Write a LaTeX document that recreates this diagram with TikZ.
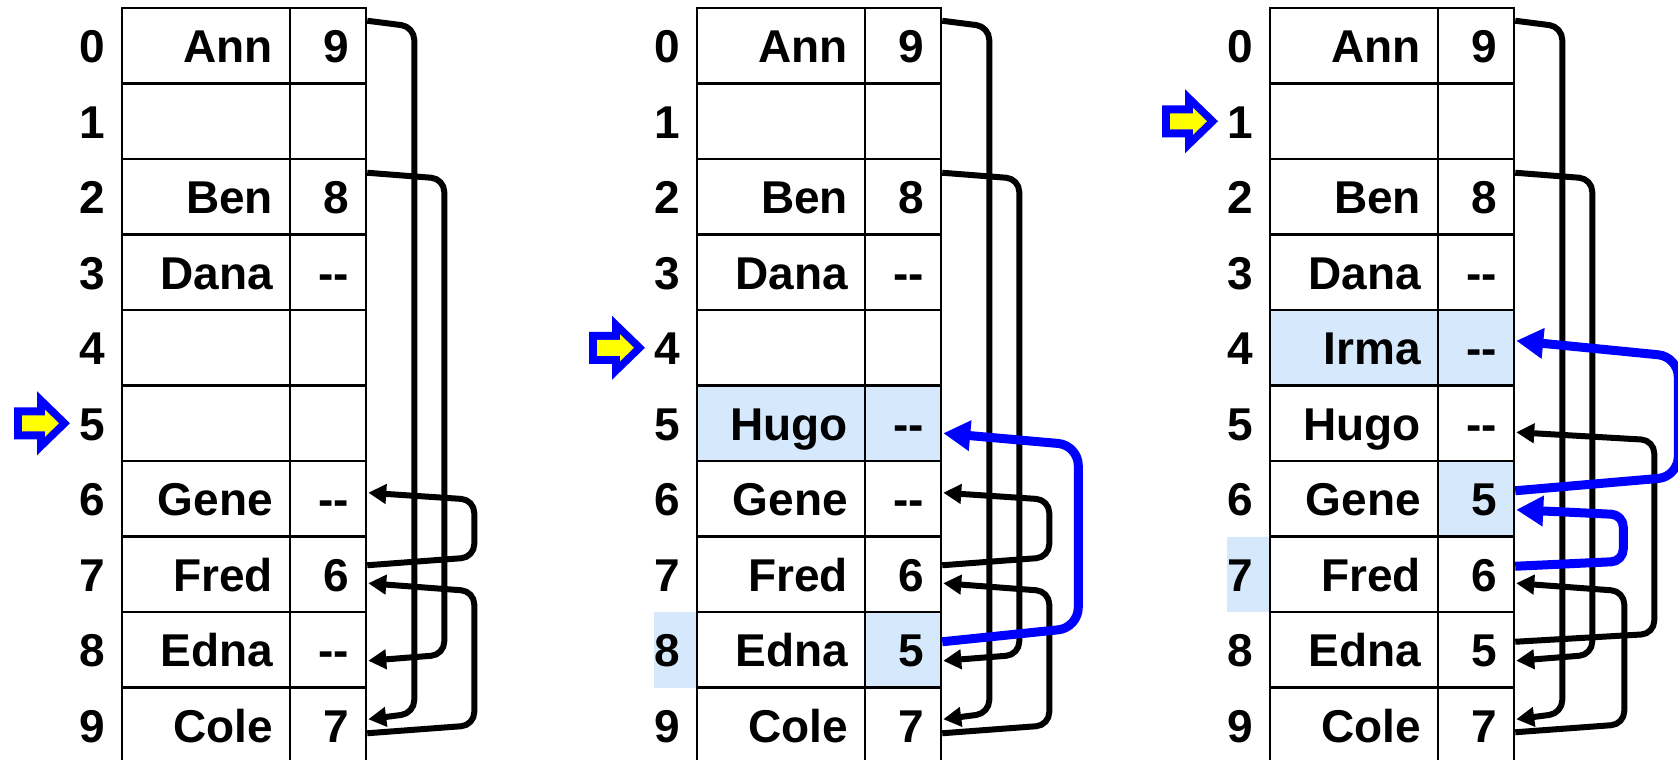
\documentclass[tikz,border=0pt]{standalone}
\usepackage{fontspec}
\setmainfont{Liberation Sans}
\usetikzlibrary{arrows.meta,calc}
\definecolor{hlblue}{HTML}{D6E9FC}
\definecolor{pblue}{HTML}{0000FF}
\definecolor{pyellow}{HTML}{FFFF00}
\newcommand\dashpair{-\kern0pt-}
\newcommand\tabfont{\bfseries\fontsize{46}{50}\selectfont}
\newcommand\tablerows[2]{%
  \foreach \r/\n/\v/\sn/\sv in {#2}{%
    \pgfmathsetmacro\cy{45.75+75.5*\r}
    \node[idx] (#1i\r) at (92,\cy) {\r};
    \node[cellN,\sn] (#1n\r) at (206,\cy) {\n};
    \node[cellV,\sv] (#1v\r) at (328,\cy) {\v};
  }}
\tikzset{
  plain/.style={},
  hl/.style={fill=hlblue},
  cellbase/.style={draw, line width=2.5pt, minimum height=75.5pt, inner xsep=17pt, inner ysep=0pt,
    align=right, text height=34pt, text depth=0pt, font=\tabfont},
  cellN/.style={cellbase, text width=134pt},
  cellV/.style={cellbase, text width=42pt},
  idx/.style={font=\tabfont, text height=34pt, text depth=0pt, inner sep=0pt},
  blackptr/.style={draw=black, line width=6pt, line join=round, rounded corners=13pt, -{Triangle[length=18pt,width=19pt]}},
  blueptr/.style={draw=pblue, line width=9pt, line join=round, rounded corners=20pt, -{Triangle[length=27pt,width=29pt]}},
  ptr/.pic={
    \fill[pblue] (-78,-16) -- (-55,-16) -- (-55,-32) -- (-22,0) -- (-55,32) -- (-55,16) -- (-78,16) -- cycle;
    \fill[pyellow] (-70,-8) -- (-47,-8) -- (-47,-13.5) -- (-33,0) -- (-47,13.5) -- (-47,8) -- (-70,8) -- cycle;
  }
}
\begin{document}
\begin{tikzpicture}[x=1pt,y=-1pt]
\useasboundingbox (0,0) rectangle (1678,760);
\clip (0,0) rectangle (1678,760);

% ---------- panel 1 ----------
\tablerows{a}{0/Ann/9/plain/plain,1///plain/plain,2/Ben/8/plain/plain,3/Dana/\dashpair/plain/plain,4///plain/plain,5///plain/plain,6/Gene/\dashpair/plain/plain,7/Fred/6/plain/plain,8/Edna/\dashpair/plain/plain,9/Cole/7/plain/plain}
\path (ai5) pic {ptr};

% ---------- panel 2 ----------
\begin{scope}[xshift=575pt]
\fill[hlblue] (79,612) rectangle (122,687.5);
\tablerows{b}{0/Ann/9/plain/plain,1///plain/plain,2/Ben/8/plain/plain,3/Dana/\dashpair/plain/plain,4///plain/plain,5/Hugo/\dashpair/hl/hl,6/Gene/\dashpair/plain/plain,7/Fred/6/plain/plain,8/Edna/5/plain/hl,9/Cole/7/plain/plain}
\path (bi4) pic {ptr};
\end{scope}

% ---------- panel 3 ----------
\begin{scope}[xshift=1148pt]
\fill[hlblue] (79,536.5) rectangle (122,612);
\tablerows{c}{0/Ann/9/plain/plain,1///plain/plain,2/Ben/8/plain/plain,3/Dana/\dashpair/plain/plain,4/Irma/\dashpair/hl/hl,5/Hugo/\dashpair/plain/plain,6/Gene/5/plain/hl,7/Fred/6/plain/plain,8/Edna/5/plain/plain,9/Cole/7/plain/plain}
\path (ci1) pic {ptr};
\end{scope}

% ---------- black links ----------
\foreach \p in {a,b,c}{
  \path[blackptr] ($(\p v0.east)+(0,-25)$) -- ($(\p v0.east)+(47,-19)$) -- ($(\p v9.east)+(47,-12)$) -- ($(\p v9.east)+(1,-6)$);
  \path[blackptr] ($(\p v2.east)+(0,-24)$) -- ($(\p v2.east)+(77,-18)$) -- ($(\p v8.east)+(77,5)$) -- ($(\p v8.east)+(1,11)$);
}
\foreach \p in {a,b}{
  \path[blackptr] ($(\p v7.east)+(0,-9)$) -- ($(\p v7.east)+(107,-17)$) -- ($(\p v6.east)+(107,1)$) -- ($(\p v6.east)+(1,-6)$);
  \path[blackptr] ($(\p v9.east)+(0,8)$) -- ($(\p v9.east)+(107,0)$) -- ($(\p v7.east)+(107,17)$) -- ($(\p v7.east)+(1,9)$);
}
\path[blackptr] ($(cv8.east)+(0,-8)$) -- ($(cv8.east)+(139,-16)$) -- ($(cv5.east)+(139,17)$) -- ($(cv5.east)+(1,9)$);
\path[blackptr] ($(cv9.east)+(0,7)$) -- ($(cv9.east)+(109,-1)$) -- ($(cv7.east)+(109,17)$) -- ($(cv7.east)+(1,9)$);

% ---------- blue links ----------
\path[blueptr] ($(bv8.east)+(0,-8)$) -- ($(bv8.east)+(136,-22)$) -- ($(bv5.east)+(136,22)$) -- ($(bv5.east)+(1,10)$);
\path[blueptr] ($(cv6.east)+(0,-8)$) -- ($(cv6.east)+(163,-22)$) -- ($(cv4.east)+(163,9)$) -- ($(cv4.east)+(1,-7)$);
\path[blueptr,rounded corners=12pt] ($(cv7.east)+(0,-8)$) -- ($(cv7.east)+(108,-13)$) -- ($(cv6.east)+(108,16)$) -- ($(cv6.east)+(1,11)$);
\end{tikzpicture}
\end{document}
